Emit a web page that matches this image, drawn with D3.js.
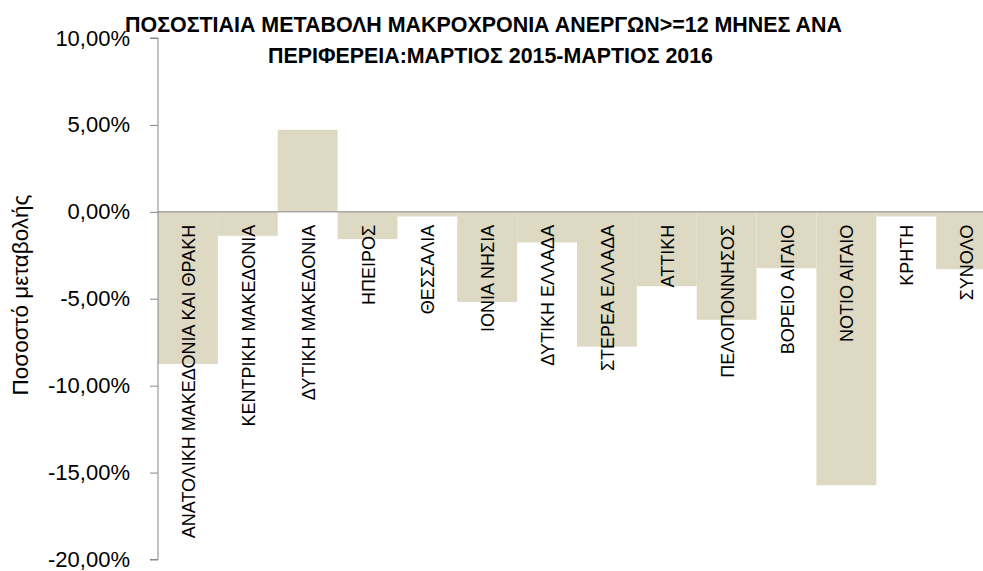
<!DOCTYPE html>
<html>
<head>
<meta charset="utf-8">
<script src="https://cdn.jsdelivr.net/npm/d3@7"></script>
<style>
  body { margin: 0; background: #fff; }
  text { font-family: "Liberation Sans", Arial, sans-serif; fill: #000; }
</style>
</head>
<body>
<div id="chart"></div>
<script>
// regions and % change of long-term unemployed, March 2015 - March 2016
const regions = ["ΑΝΑΤΟΛΙΚΗ ΜΑΚΕΔΟΝΙΑ ΚΑΙ ΘΡΑΚΗ", "ΚΕΝΤΡΙΚΗ ΜΑΚΕΔΟΝΙΑ", "ΔΥΤΙΚΗ ΜΑΚΕΔΟΝΙΑ",
  "ΗΠΕΙΡΟΣ", "ΘΕΣΣΑΛΙΑ", "ΙΟΝΙΑ ΝΗΣΙΑ", "ΔΥΤΙΚΗ ΕΛΛΑΔΑ", "ΣΤΕΡΕΑ ΕΛΛΑΔΑ", "ΑΤΤΙΚΗ",
  "ΠΕΛΟΠΟΝΝΗΣΟΣ", "ΒΟΡΕΙΟ ΑΙΓΑΙΟ", "ΝΟΤΙΟ ΑΙΓΑΙΟ", "ΚΡΗΤΗ", "ΣΥΝΟΛΟ"];
const change = [-8.75, -1.38, 4.72, -1.57, -0.27, -5.18, -1.76, -7.75, -4.28, -6.21, -3.24, -15.73, -0.27, -3.30];
const yTicks = [10, 5, 0, -5, -10, -15, -20];
const titleLines = ["ΠΟΣΟΣΤΙΑΙΑ ΜΕΤΑΒΟΛΗ ΜΑΚΡΟΧΡΟΝΙΑ ΑΝΕΡΓΩΝ>=12 ΜΗΝΕΣ ΑΝΑ",
  "ΠΕΡΙΦΕΡΕΙΑ:ΜΑΡΤΙΟΣ 2015-ΜΑΡΤΙΟΣ 2016"];

const width = 983, height = 571;
const plotLeft = 158, plotRight = 996, plotTop = 38, plotBottom = 559.5;

const svg = d3.select("#chart").append("svg")
  .attr("width", width)
  .attr("height", height);

const x = d3.scaleBand().domain(regions).range([plotLeft, plotRight]).padding(0);
const y = d3.scaleLinear().domain([-20, 10]).range([plotBottom, plotTop]);

// bars
svg.append("g").selectAll("rect").data(change).enter().append("rect")
  .attr("x", (d, i) => x(regions[i]))
  .attr("width", x.bandwidth())
  .attr("y", d => y(Math.max(0, d)))
  .attr("height", d => Math.abs(y(d) - y(0)))
  .attr("fill", "#ddd9c3");

// y axis, greek style numbers: comma decimal, plain hyphen
const grLocale = d3.formatLocale({decimal: ",", thousands: ".", grouping: [3], currency: ["", "€"], minus: "-"});
const fmt = v => grLocale.format(".2f")(v) + "%";
const yAxis = svg.append("g")
  .attr("transform", `translate(${plotLeft},0)`)
  .call(d3.axisLeft(y).tickValues(yTicks).tickSize(8).tickPadding(20).tickFormat(fmt));
yAxis.select(".domain").attr("stroke", "#868686").attr("d", `M-8,${y(10)}H0V${y(-20)}H-8`);
yAxis.selectAll(".tick line").attr("stroke", "#868686");
yAxis.selectAll(".tick text")
  .style("font-size", "22px")
  .attr("fill", "#262626")
  .style("font-family", "'Liberation Sans', Arial, sans-serif");

// zero line
svg.append("line")
  .attr("x1", plotLeft).attr("x2", plotRight)
  .attr("y1", y(0)).attr("y2", y(0))
  .attr("stroke", "#868686")
  .attr("stroke-width", 1);

// category labels, rotated
svg.append("g").selectAll("text").data(regions).enter().append("text")
  .attr("transform", d => `translate(${x(d) + x.bandwidth() / 2 + 7},${y(0) + 13}) rotate(-90)`)
  .attr("text-anchor", "end")
  .style("font-size", "18px")
  .text(d => d);

// y title
svg.append("text")
  .attr("transform", `translate(28,295) rotate(-90)`)
  .attr("text-anchor", "middle")
  .style("font-size", "22.5px")
  .text("Ποσοστό μεταβολής");

// title
const titlePos = [{cx: 483.5, y: 32, w: 717}, {cx: 490.5, y: 63, w: 445}];
svg.append("g").selectAll("text").data(titleLines).enter().append("text")
  .attr("x", (d, i) => titlePos[i].cx)
  .attr("y", (d, i) => titlePos[i].y)
  .attr("text-anchor", "middle")
  .attr("textLength", (d, i) => titlePos[i].w)
  .attr("lengthAdjust", "spacingAndGlyphs")
  .style("font-size", "22px")
  .style("font-weight", "bold")
  .text(d => d);
</script>
</body>
</html>
